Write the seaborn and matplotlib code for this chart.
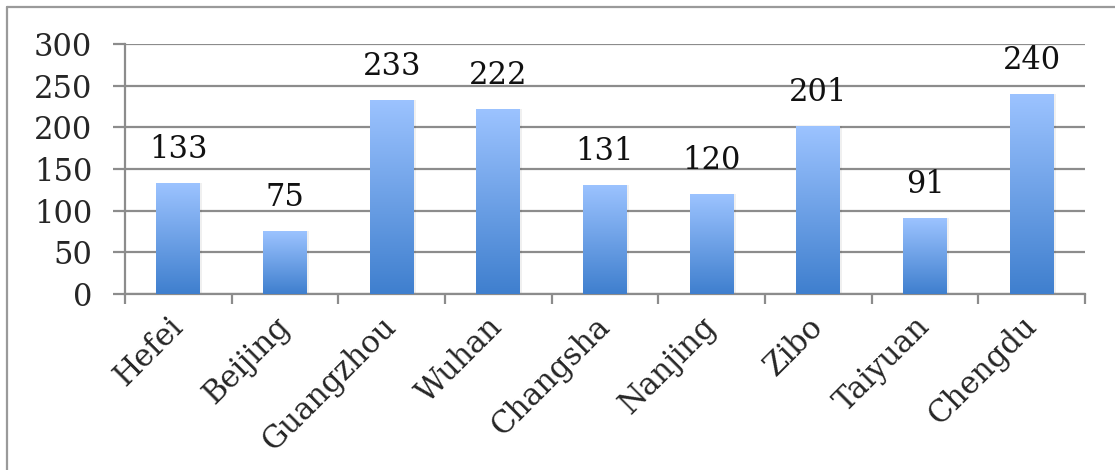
import numpy as np
import pandas as pd
import matplotlib
matplotlib.use("Agg")
import matplotlib.pyplot as plt
from matplotlib.colors import LinearSegmentedColormap
from matplotlib.lines import Line2D
import seaborn as sns

cities = ["Hefei", "Beijing", "Guangzhou", "Wuhan", "Changsha",
          "Nanjing", "Zibo", "Taiyuan", "Chengdu"]
counts = [133, 75, 233, 222, 131, 120, 201, 91, 240]
y_ticks = [0, 50, 100, 150, 200, 250, 300]

sns.set_theme(style="white")
plt.rcParams["font.family"] = ["DejaVu Serif"]

df = pd.DataFrame({"city": cities, "count": counts})

fig = plt.figure(figsize=(11.15, 4.7), dpi=100)
ax = fig.add_axes([0.1121, 0.3745, 0.9731 - 0.1121, 0.9064 - 0.3745])

sns.barplot(data=df, x="city", y="count", color="#6a9be0", width=0.41,
            ax=ax, zorder=3)

grid_col = "#8c8c8c"
fs = 22
ax.set_ylim(0, 300)
ax.set_xlim(-0.5, len(cities) - 0.5)
ax.set_yticks(y_ticks)
ax.set_yticklabels([str(v) for v in y_ticks], fontsize=fs)
ax.yaxis.grid(True, color=grid_col, linewidth=1.6, zorder=0)
ax.xaxis.grid(False)
ax.set_axisbelow(True)
ax.set_xlabel("")
ax.set_ylabel("")

for side in ("top", "right"):
    ax.spines[side].set_visible(False)
for side in ("left", "bottom"):
    ax.spines[side].set_color(grid_col)
    ax.spines[side].set_linewidth(1.6)

ax.tick_params(axis="y", which="major", direction="out", length=8.6,
               width=1.6, color=grid_col, pad=15, left=True)
ax.set_xticks(np.arange(len(cities)))
ax.set_xticks(np.arange(len(cities) + 1) - 0.5, minor=True)
ax.tick_params(axis="x", which="major", length=0, pad=20)
ax.tick_params(axis="x", which="minor", direction="out", length=7.5,
               width=1.6, color=grid_col, bottom=True)
ax.set_xticklabels(cities, fontsize=fs, rotation=45, ha="right",
                   rotation_mode="anchor", va="center")

# vertical gradient fill for each bar, light on top, deeper blue at the base
cmap = LinearSegmentedColormap.from_list("barfade", ["#3f7fce", "#9cc3ff"])
grad = np.linspace(0, 1, 256).reshape(-1, 1)
for patch in ax.patches:
    x0, y0 = patch.get_x(), patch.get_y()
    w, h = patch.get_width(), patch.get_height()
    # soft shadow to the right of the bar
    ax.add_patch(plt.Rectangle((x0 + 0.02, y0), w, h, facecolor="#000000",
                               alpha=0.06, edgecolor="none", zorder=2.5))
    im = ax.imshow(grad, cmap=cmap, aspect="auto", origin="lower",
                   extent=(x0, x0 + w, y0, y0 + h), zorder=3.5)
    im.set_clip_path(patch)
    patch.set_facecolor("none")
    patch.set_edgecolor("none")

for i, v in enumerate(counts):
    ax.annotate(str(v), xy=(i, v), xytext=(0, 13), textcoords="offset points",
                ha="center", va="bottom", fontsize=fs, color="#111111")

ax.set_xlim(-0.5, len(cities) - 0.5)
ax.set_ylim(0, 300)

# outer chart frame (top and left edges)
fig.add_artist(Line2D([7 / 1115, 1], [1 - 7 / 470, 1 - 7 / 470],
                      transform=fig.transFigure, color="#9a9a9a", linewidth=1.6))
fig.add_artist(Line2D([7 / 1115, 7 / 1115], [0, 1 - 7 / 470],
                      transform=fig.transFigure, color="#9a9a9a", linewidth=1.6))

fig.savefig("out.png", dpi=100)
